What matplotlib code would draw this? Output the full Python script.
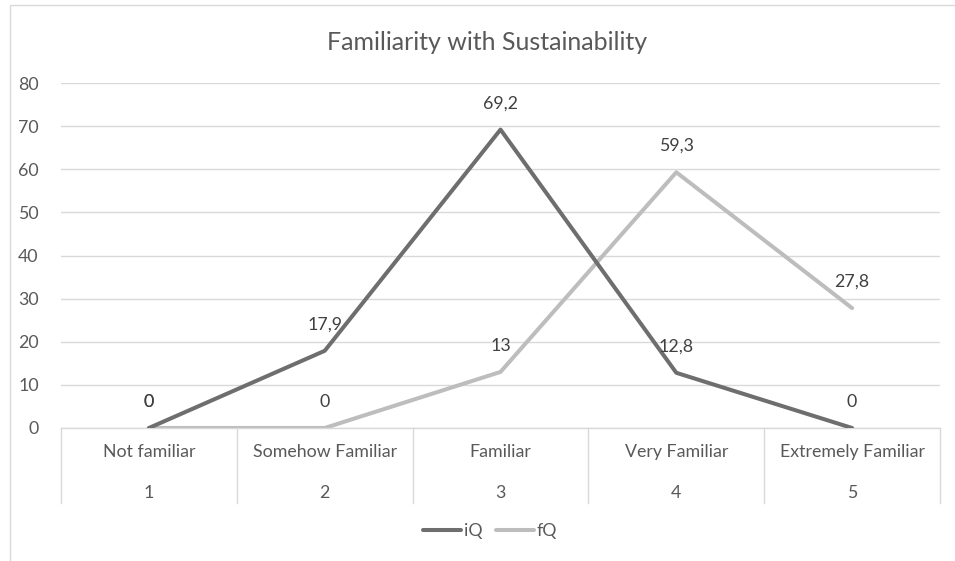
import matplotlib
matplotlib.use("Agg")
import matplotlib.pyplot as plt
from matplotlib.patches import Rectangle
from matplotlib.lines import Line2D
import matplotlib.transforms as mtransforms

plt.rcParams['font.family'] = ['Lato', 'DejaVu Sans']

categories = ["Not familiar", "Somehow Familiar", "Familiar", "Very Familiar", "Extremely Familiar"]
codes = ["1", "2", "3", "4", "5"]
iq_values = [0, 17.9, 69.2, 12.8, 0]
fq_values = [0, 0, 13, 59.3, 27.8]
y_ticks = [0, 10, 20, 30, 40, 50, 60, 70, 80]

TEXT = "#595959"
GRID = "#d9d9d9"
IQ_COLOR = "#6e6e6e"
FQ_COLOR = "#bdbdbd"
FS = 12.8

W, H = 955, 561
fig = plt.figure(figsize=(W / 100, H / 100), dpi=100)

# chart-area frame
fig.add_artist(Rectangle((10 / W, -0.1), 1.2, 1 - 5 / H + 0.1, transform=fig.transFigure,
                         fill=False, edgecolor=GRID, linewidth=1.0))

left, right, top, bottom = 61, 940, 83, 428
ax = fig.add_axes([left / W, 1 - bottom / H, (right - left) / W, (bottom - top) / H])

x = list(range(1, len(categories) + 1))
ax.plot(x, iq_values, color=IQ_COLOR, linewidth=2.9, solid_capstyle='round', zorder=3, label="iQ")
ax.plot(x, fq_values, color=FQ_COLOR, linewidth=2.9, solid_capstyle='round', zorder=2, label="fQ")

def fmt(v):
    s = f"{v:g}"
    return s.replace(".", ",")

for vals in (iq_values, fq_values):
    for xi, v in zip(x, vals):
        ax.annotate(fmt(v), (xi, v), xytext=(0, 19), textcoords="offset points",
                    ha="center", va="center", fontsize=FS, color="#404040", zorder=4)

ax.set_xlim(0.5, len(categories) + 0.5)
ax.set_ylim(0, 80)
ax.set_yticks(y_ticks)
ax.set_yticklabels([str(t) for t in y_ticks], fontsize=FS, color=TEXT)
ax.tick_params(axis='y', length=0, pad=16)
ax.set_xticks([])
ax.grid(axis='y', color=GRID, linewidth=1.0)
ax.set_axisbelow(True)
for s in ("top", "right", "left"):
    ax.spines[s].set_visible(False)
ax.spines["bottom"].set_color(GRID)
ax.spines["bottom"].set_linewidth(1.0)

# two-level category axis drawn below the plot
trans = mtransforms.blended_transform_factory(ax.transData, ax.transAxes)
px = 1.0 / (bottom - top)
for b in [i + 0.5 for i in range(len(categories) + 1)]:
    ax.add_line(Line2D([b, b], [0, -75 * px], transform=trans, color=GRID,
                       linewidth=1.0, clip_on=False))
for xi, cat, code in zip(x, categories, codes):
    ax.text(xi, -24 * px, cat, transform=trans, ha="center", va="center",
            fontsize=FS, color=TEXT)
    ax.text(xi, -65 * px, code, transform=trans, ha="center", va="center",
            fontsize=FS, color=TEXT)

fig.text(487 / W, 1 - 42 / H, "Familiarity with Sustainability", ha="center", va="center",
         fontsize=18, color=TEXT)

leg = fig.legend(loc="center", bbox_to_anchor=(490 / W, 1 - 531 / H), ncol=2, frameon=False,
                 fontsize=FS, handlelength=2.15, handletextpad=0.15, columnspacing=0.75)
for t in leg.get_texts():
    t.set_color(TEXT)

fig.savefig("out.png", dpi=100)
